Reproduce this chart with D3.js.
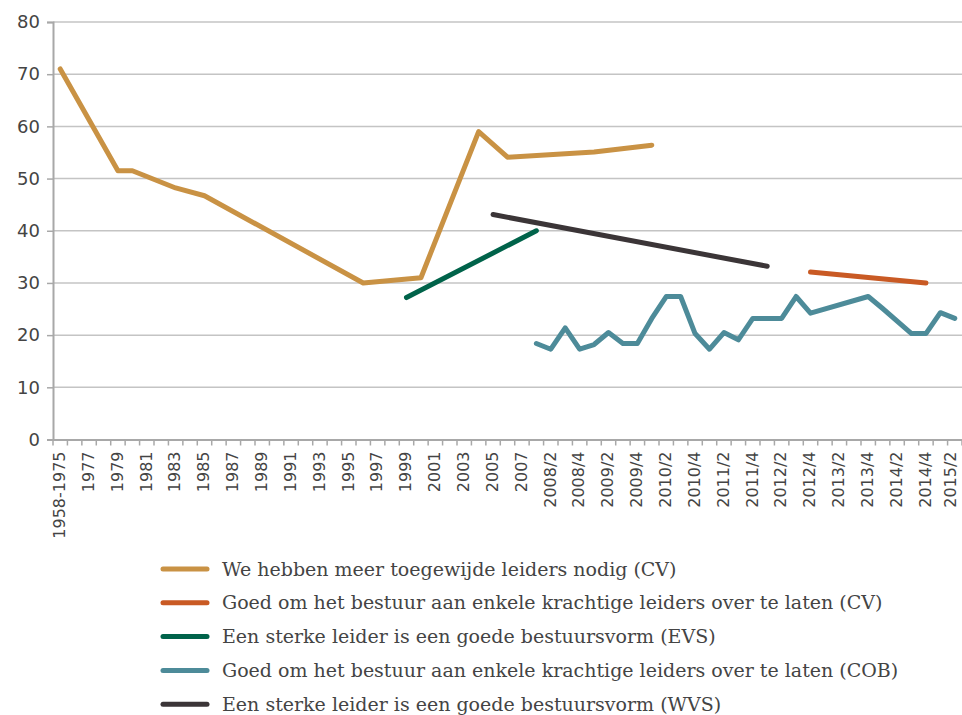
<!DOCTYPE html>
<html>
<head>
<meta charset="utf-8">
<script src="https://cdn.jsdelivr.net/npm/d3@7"></script>
<style>
  body { margin: 0; background: #fff; }
  svg { display: block; }
</style>
</head>
<body>
<svg></svg>
<script>
// Categories on the x axis (labels shown on every second one)
const categories = [
  "1958-1975", "1976", "1977", "1978", "1979", "1980", "1981", "1982", "1983", "1984",
  "1985", "1986", "1987", "1988", "1989", "1990", "1991", "1992", "1993", "1994",
  "1995", "1996", "1997", "1998", "1999", "2000", "2001", "2002", "2003", "2004",
  "2005", "2006", "2007",
  "2008/1", "2008/2", "2008/3", "2008/4", "2009/1", "2009/2", "2009/3", "2009/4",
  "2010/1", "2010/2", "2010/3", "2010/4", "2011/1", "2011/2", "2011/3", "2011/4",
  "2012/1", "2012/2", "2012/3", "2012/4", "2013/1", "2013/2", "2013/3", "2013/4",
  "2014/1", "2014/2", "2014/3", "2014/4", "2015/1", "2015/2"
];

const yTicks = [0, 10, 20, 30, 40, 50, 60, 70, 80];

// Series: [category, value]
const cvToegewijd = [
  ["1958-1975", 71], ["1979", 51.5], ["1980", 51.5], ["1983", 48.2], ["1985", 46.7],
  ["1996", 30], ["2000", 31], ["2004", 59], ["2006", 54.1], ["2009/1", 55.1], ["2010/1", 56.4]
];
const cvKrachtig = [["2012/4", 32.1], ["2014/4", 30]];
const evs = [["1999", 27.2], ["2008/1", 40]];
const cob = [
  ["2008/1", 18.4], ["2008/2", 17.3], ["2008/3", 21.4], ["2008/4", 17.3],
  ["2009/1", 18.2], ["2009/2", 20.5], ["2009/3", 18.4], ["2009/4", 18.4],
  ["2010/1", 23.2], ["2010/2", 27.4], ["2010/3", 27.4], ["2010/4", 20.3],
  ["2011/1", 17.3], ["2011/2", 20.5], ["2011/3", 19.1], ["2011/4", 23.2],
  ["2012/1", 23.2], ["2012/2", 23.2], ["2012/3", 27.4], ["2012/4", 24.2],
  ["2013/4", 27.4], ["2014/1", 25.1], ["2014/3", 20.3], ["2014/4", 20.3],
  ["2015/1", 24.3], ["2015/2", 23.2]
];
const wvs = [["2005", 43.1], ["2012/1", 33.2]];

const seriesNames = [
  "We hebben meer toegewijde leiders nodig (CV)",
  "Goed om het bestuur aan enkele krachtige leiders over te laten (CV)",
  "Een sterke leider is een goede bestuursvorm (EVS)",
  "Goed om het bestuur aan enkele krachtige leiders over te laten (COB)",
  "Een sterke leider is een goede bestuursvorm (WVS)"
];
const seriesData = [cvToegewijd, cvKrachtig, evs, cob, wvs];
const seriesColors = ["#C99244", "#C95A24", "#00634A", "#4D8B99", "#3B3537"];

const width = 962, height = 715;
const margin = { top: 22, right: 0, bottom: 275.5, left: 53 };
const w = width - margin.left - margin.right;
const h = height - margin.top - margin.bottom;

const svg = d3.select("svg")
  .attr("width", width)
  .attr("height", height);

const g = svg.append("g")
  .attr("transform", `translate(${margin.left},${margin.top})`);

const x = d3.scaleBand().domain(categories).range([0, w]).padding(0);
const y = d3.scaleLinear().domain([0, 80]).range([h, 0]);

// gridlines
g.append("g")
  .selectAll("line")
  .data(yTicks.filter(d => d > 0))
  .join("line")
  .attr("x1", 0).attr("x2", w)
  .attr("y1", d => y(d)).attr("y2", d => y(d))
  .attr("stroke", "#C4C4C4")
  .attr("stroke-width", 1.5);

// y axis
const yAxis = g.append("g")
  .call(d3.axisLeft(y).tickValues(yTicks).tickSize(6).tickPadding(7));
yAxis.select(".domain").attr("stroke", "#A8A8A8").attr("stroke-width", 2);
yAxis.selectAll(".tick line").attr("stroke", "#A8A8A8").attr("stroke-width", 1.5);
yAxis.selectAll("text")
  .attr("font-family", "'DejaVu Sans', sans-serif")
  .attr("font-size", 18)
  .attr("fill", "#444");

// x axis
const xAxis = g.append("g")
  .attr("transform", `translate(0,${h})`)
  .call(d3.axisBottom(x)
    .tickValues(categories.filter((d, i) => i % 2 === 0))
    .tickSize(0)
    .tickSizeOuter(0));
xAxis.select(".domain").attr("stroke", "#A8A8A8").attr("stroke-width", 2);
xAxis.selectAll("text")
  .attr("transform", "rotate(-90)")
  .attr("x", -12)
  .attr("y", 0)
  // last label sits against the right edge, pull it in a touch
  .attr("dy", (d, i, n) => i === n.length - 1 ? "0.08em" : "0.3em")
  .attr("text-anchor", "end")
  .attr("font-family", "'DejaVu Sans', sans-serif")
  .attr("font-size", 16)
  .attr("fill", "#444");

// tick marks at category boundaries
xAxis.append("g")
  .selectAll("line")
  .data(categories.map(c => x(c)).concat([x.range()[1]]))
  .join("line")
  .attr("x1", d => d).attr("x2", d => d)
  .attr("y1", 0).attr("y2", 6)
  .attr("stroke", "#A8A8A8")
  .attr("stroke-width", 1.5);

// lines
const line = d3.line()
  .x(d => x(d[0]) + x.bandwidth() / 2)
  .y(d => y(d[1]));

g.append("g")
  .selectAll("path")
  .data(seriesData)
  .join("path")
  .attr("d", line)
  .attr("fill", "none")
  .attr("stroke", (d, i) => seriesColors[i])
  .attr("stroke-width", 5)
  .attr("stroke-linejoin", "round")
  .attr("stroke-linecap", "round");

// legend
const legend = svg.append("g")
  .selectAll("g")
  .data(seriesNames)
  .join("g")
  .attr("transform", (d, i) => `translate(163,${569 + i * 33.8})`);

legend.append("line")
  .attr("x1", 0).attr("x2", 44)
  .attr("stroke", (d, i) => seriesColors[i])
  .attr("stroke-width", 5)
  .attr("stroke-linecap", "round");

legend.append("text")
  .attr("x", 59)
  .attr("dy", "0.35em")
  .attr("font-family", "'DejaVu Serif', serif")
  .attr("font-size", 19)
  .attr("fill", "#444")
  .text(d => d);
</script>
</body>
</html>
